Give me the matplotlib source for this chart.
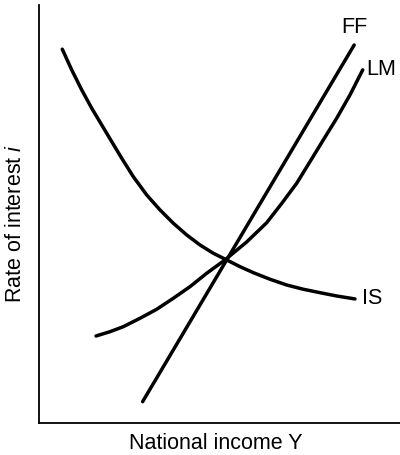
import matplotlib
matplotlib.use("Agg")
import matplotlib.pyplot as plt

# Curves (arbitrary units, axes span 0-10)
is_x = [0.645, 0.906, 1.183, 1.460, 1.737, 2.014, 2.291, 2.612, 2.983, 3.352, 3.720, 4.091,
        4.460, 4.828, 5.199, 5.568, 5.936, 6.399, 6.861, 7.321, 7.784, 8.247, 8.753]
is_y = [8.940, 8.445, 7.967, 7.529, 7.129, 6.730, 6.333, 5.892, 5.455, 5.096, 4.778, 4.498,
        4.258, 4.060, 3.900, 3.739, 3.596, 3.438, 3.301, 3.199, 3.117, 3.038, 2.967]

lm_x = [1.579, 1.967, 2.335, 2.798, 3.260, 3.720, 4.183, 4.645, 5.152, 5.753, 6.307, 6.723,
        7.139, 7.507, 7.875, 8.247, 8.615, 8.967]
lm_y = [2.081, 2.184, 2.304, 2.505, 2.720, 2.983, 3.261, 3.581, 3.900, 4.330, 4.790, 5.251,
        5.734, 6.251, 6.770, 7.289, 7.847, 8.445]

ff_x = [2.87, 8.73]
ff_y = [0.51, 9.04]

plt.rcParams.update({
    "font.family": "Liberation Sans",
    "mathtext.fontset": "custom",
    "mathtext.it": "Liberation Sans:italic",
    "mathtext.rm": "Liberation Sans",
})

fig = plt.figure(figsize=(4.0, 4.55), dpi=100)
ax = fig.add_axes([0.0975, 0.0703, 0.9025, 0.919])

lw = 2.5
for xs, ys in [(is_x, is_y), (lm_x, lm_y), (ff_x, ff_y)]:
    ax.plot(xs, ys, color="black", lw=lw, solid_capstyle="round", solid_joinstyle="round")

fs = 15.5
ax.text(ff_x[-1], ff_y[-1] + 0.43, "FF", ha="center", va="center", fontsize=fs)
ax.text(lm_x[-1] + 0.1, lm_y[-1], "LM", ha="left", va="center", fontsize=fs)
ax.text(is_x[-1] + 0.2, is_y[-1], "IS", ha="left", va="center", fontsize=fs)

ax.set_xlim(0, 10)
ax.set_ylim(0, 10)
ax.spines["top"].set_visible(False)
ax.spines["right"].set_visible(False)
ax.spines["left"].set_linewidth(1.3)
ax.spines["bottom"].set_linewidth(1.3)
ax.set_xticks([])
ax.set_yticks([])

ax.set_xlabel("National income Y", fontsize=fs)
ax.xaxis.set_label_coords(0.49, -0.05)
ax.xaxis.label.set_va("center")
ax.set_ylabel("Rate of interest $i$", fontsize=fs)
ax.yaxis.set_label_coords(-0.066, 0.478)
ax.yaxis.label.set_va("center")

fig.savefig("out.png", dpi=100)
